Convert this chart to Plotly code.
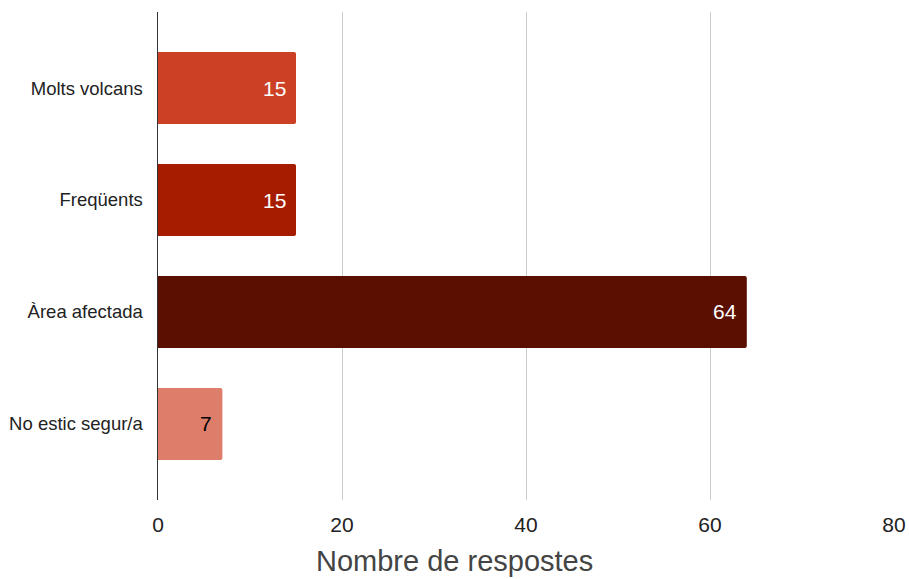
import plotly.graph_objects as go

categories = ["Molts volcans", "Freqüents", "Àrea afectada", "No estic segur/a"]
values = [15, 15, 64, 7]
colors = ["#cc4125", "#a61c00", "#5b0f00", "#dd7e6b"]
label_colors = ["#ffffff", "#ffffff", "#ffffff", "#000000"]
x_ticks = [0, 20, 40, 60, 80]
x_title = "Nombre de respostes"

FONT = "Arial, Liberation Sans, sans-serif"

L, T, R, B = 158, 12, 15.4, 79
W, H = 909, 579
plot_w = W - L - R
plot_h = H - T - B

fig = go.Figure()
fig.add_trace(go.Bar(
    x=values,
    y=categories,
    orientation="h",
    marker=dict(color=colors, line=dict(width=0)),
    width=0.643,
    hoverinfo="skip",
))

for v, c, tc in zip(values, categories, label_colors):
    fig.add_annotation(
        x=v, y=c, xref="x", yref="y",
        text=str(v), showarrow=False,
        xanchor="right", yanchor="middle", xshift=-8,
        font=dict(family=FONT, size=21, color=tc),
    )

fig.add_annotation(
    x=(454.5 - L) / plot_w, y=-61 / plot_h, xref="paper", yref="paper",
    text=x_title, showarrow=False, xanchor="center", yanchor="middle",
    font=dict(family=FONT, size=29, color="#444444"),
)

fig.update_layout(
    width=W, height=H,
    margin=dict(l=L, r=R, t=T, b=B, pad=0, autoexpand=False),
    paper_bgcolor="white", plot_bgcolor="white",
    showlegend=False,
    barcornerradius=2,
    font=dict(family=FONT, color="#222222"),
)
fig.update_xaxes(
    range=[0, 80], tickvals=x_ticks, ticktext=[str(t) for t in x_ticks],
    showgrid=True, gridcolor="#cccccc", gridwidth=1,
    zeroline=False, showline=False, ticks="",
    tickfont=dict(family=FONT, size=21, color="#222222"),
    ticklabelstandoff=10, automargin=False,
)
fig.update_yaxes(
    type="category", categoryorder="array", categoryarray=categories,
    range=[3.679, -0.679],
    showgrid=False, zeroline=False,
    showline=True, linecolor="#333333", linewidth=1.5,
    ticks="", ticklabelstandoff=10, automargin=False,
    tickfont=dict(family=FONT, size=18.5, color="#222222"),
)

fig.write_html(
    "out.html",
    config={"displayModeBar": False, "staticPlot": True},
    post_script="document.body.style.margin='0';"
                "document.documentElement.style.overflow='hidden';",
)
